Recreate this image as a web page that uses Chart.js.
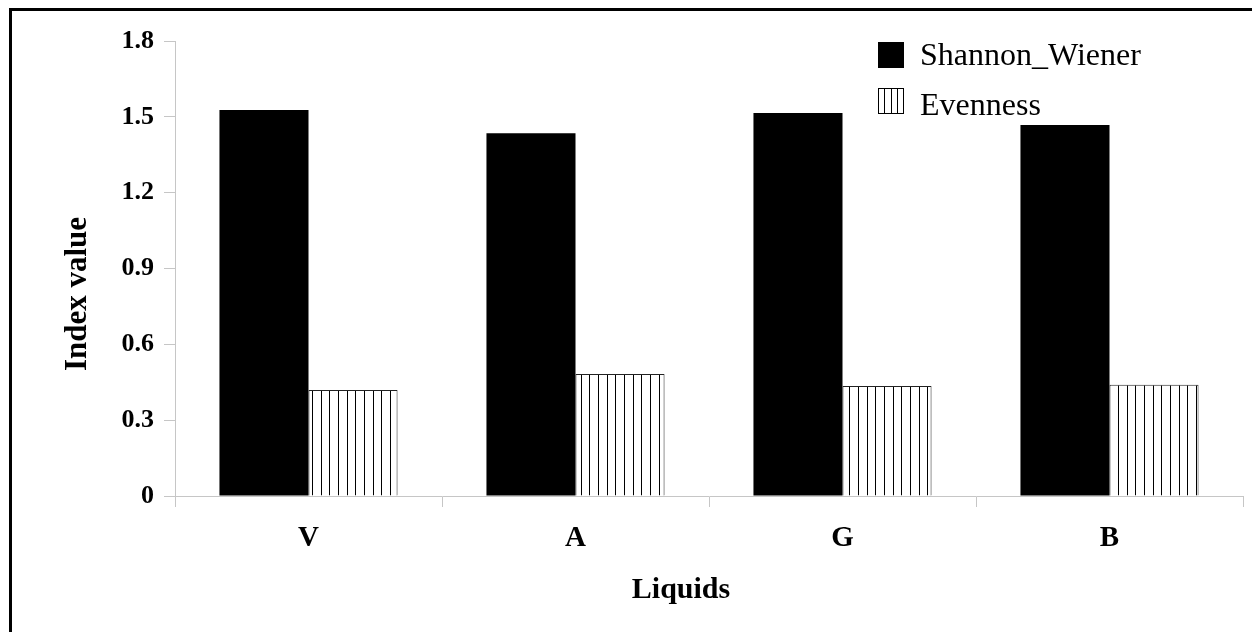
<!DOCTYPE html>
<html>
<head>
<meta charset="utf-8">
<title>Index values by liquid</title>
<script src="https://cdn.jsdelivr.net/npm/chart.js@4.4.1/dist/chart.umd.min.js"></script>
<style>
  html, body { margin: 0; padding: 0; background: #fff; overflow: hidden; }
  #wrap { position: relative; width: 1252px; height: 632px; }
  #frame { position: absolute; left: 9px; top: 8px; width: 1400px; height: 800px; border: 3px solid #000; }
  #chart { position: absolute; left: 0; top: 0; }
</style>
</head>
<body>
<div id="wrap">
  <div id="frame"></div>
  <canvas id="chart" width="1252" height="632"></canvas>
</div>
<script>
const liquids = ['V', 'A', 'G', 'B'];
const shannonWiener = [1.527, 1.435, 1.515, 1.468];
const evenness = [0.419, 0.483, 0.435, 0.440];
const yTitle = 'Index value';
const xTitle = 'Liquids';

const SERIF = '"Liberation Serif", "Times New Roman", serif';
const AXIS_GREY = '#c6c6c6';

// vertical hatching for the evenness bars
function stripePattern() {
    const c = document.createElement('canvas');
    c.width = 26;
    c.height = 4;
    const g = c.getContext('2d');
    g.fillStyle = '#fff';
    g.fillRect(0, 0, 26, 4);
    g.fillStyle = '#000';
    [0, 9, 17].forEach(x => g.fillRect(x, 0, 1, 4));
    return g.createPattern(c, 'repeat');
}

// legend stacked in the top right corner of the plot
const stackedLegend = {
    id: 'stackedLegend',
    afterDraw(chart) {
        const ctx = chart.ctx;
        const rows = [{ box: 42, text: 57 }, { box: 88, text: 107 }];
        ctx.save();
        ctx.font = '32px ' + SERIF;
        ctx.textBaseline = 'middle';
        chart.data.datasets.forEach((ds, i) => {
            const x = 878, y = rows[i].box;
            ctx.fillStyle = '#000';
            if (i === 0) {
                ctx.fillRect(x, y, 26, 26);
            } else {
                ctx.fillStyle = '#fff';
                ctx.fillRect(x, y, 25, 25);
                ctx.strokeStyle = '#000';
                ctx.lineWidth = 1;
                ctx.strokeRect(x + 0.5, y + 0.5, 25, 25);
                for (let k = 1; k < 4; k++) {
                    const lx = Math.round(x + k * 6.25) + 0.5;
                    ctx.beginPath();
                    ctx.moveTo(lx, y);
                    ctx.lineTo(lx, y + 26);
                    ctx.stroke();
                }
                ctx.fillStyle = '#000';
            }
            ctx.fillText(ds.label, 920, rows[i].text);
        });
        ctx.restore();
    }
};

// axis titles
const axisTitles = {
    id: 'axisTitles',
    afterDraw(chart) {
        const ctx = chart.ctx;
        ctx.save();
        ctx.fillStyle = '#000';
        ctx.font = 'bold 30px ' + SERIF;
        ctx.textAlign = 'center';
        ctx.textBaseline = 'middle';
        ctx.fillText(xTitle, 681, 590);
        ctx.font = 'bold 31px ' + SERIF;
        ctx.translate(78, 294);
        ctx.rotate(-Math.PI / 2);
        ctx.fillText(yTitle, 0, 0);
        ctx.restore();
    }
};

new Chart(document.getElementById('chart'), {
    type: 'bar',
    data: {
        labels: liquids,
        datasets: [
            {
                label: 'Shannon_Wiener',
                data: shannonWiener,
                backgroundColor: '#000',
                borderWidth: 0
            },
            {
                label: 'Evenness',
                data: evenness,
                backgroundColor: stripePattern(),
                borderColor: '#222',
                borderWidth: 1
            }
        ]
    },
    options: {
        responsive: false,
        animation: false,
        events: [],
        layout: { padding: { top: 41, right: 9, left: 0, bottom: 0 } },
        datasets: {
            bar: { categoryPercentage: 0.667, barPercentage: 1 }
        },
        plugins: {
            legend: { display: false },
            tooltip: { enabled: false }
        },
        scales: {
            x: {
                grid: { drawOnChartArea: false, color: AXIS_GREY, tickLength: 11 },
                border: { color: AXIS_GREY },
                ticks: {
                    color: '#000',
                    padding: 14,
                    font: { family: SERIF, size: 29, weight: 'bold' }
                },
                afterFit(scale) { scale.height = 632 - 496; }
            },
            y: {
                min: 0,
                max: 1.8,
                grid: { drawOnChartArea: false, color: AXIS_GREY, tickLength: 11 },
                border: { color: AXIS_GREY },
                ticks: {
                    stepSize: 0.3,
                    color: '#000',
                    padding: 10,
                    font: { family: SERIF, size: 26, weight: 'bold' },
                    callback: v => (v === 0 ? '0' : v.toFixed(1))
                },
                afterFit(scale) { scale.width = 175; }
            }
        }
    },
    plugins: [stackedLegend, axisTitles]
});
</script>
</body>
</html>
